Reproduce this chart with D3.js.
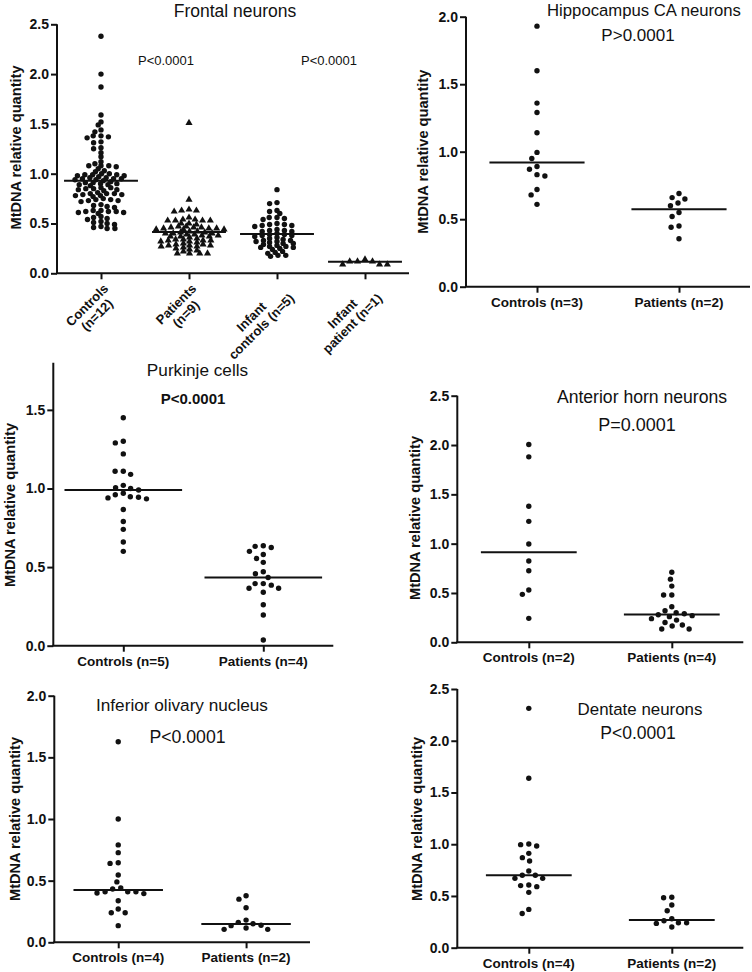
<!DOCTYPE html>
<html><head><meta charset="utf-8">
<script src="https://cdn.jsdelivr.net/npm/d3@7"></script>
<style>
body{margin:0;background:#fff}
svg{display:block}
text{font-family:"Liberation Sans",Arial,Helvetica,sans-serif;fill:#111}
</style>
</head><body>
<svg id="chart" width="752" height="972"></svg>
<script>
// ---------------- DATA ----------------
const yAxisTitle = "MtDNA relative quantity";

// Frontal neurons
const frontalCategories = ["Controls\n(n=12)", "Patients\n(n=9)", "Infant\ncontrols (n=5)", "Infant\npatient (n=1)"];
const frontalControls = [2.38,2.00,1.87,1.59,1.52,1.49,1.44,1.42,1.38,1.38,1.37,1.36,1.32,1.31,1.26,1.25,1.21,1.17,1.12,1.10,1.08,1.08,1.08,1.07,1.05,
  1.03,1.02,1.00,1.00,0.99,0.99,0.99,0.98,0.98,0.97,
  0.96,0.96,0.95,0.95,0.95,0.94,0.94,0.93,
  0.92,0.91,0.91,0.90,0.90,0.89,0.89,0.88,
  0.86,0.86,0.85,0.85,0.84,0.84,0.83,
  0.81,0.80,0.80,0.80,0.79,0.79,0.78,0.78,0.77,
  0.75,0.74,0.74,0.73,0.73,0.72,
  0.69,0.68,0.67,0.66,
  0.63,0.63,0.62,0.62,0.62,0.61,0.61,0.60,
  0.57,0.56,0.55,0.54,0.52,0.51,0.50,0.49,0.47,0.46,0.45,0.45];
const frontalPatients = [1.51,0.74,0.64,0.63,0.63,0.62,0.56,0.54,0.54,0.53,0.53,0.53,0.53,0.50,0.50,0.49,0.47,0.47,0.46,0.46,0.46,0.45,0.45,0.45,0.44,0.44,0.44,
  0.42,0.42,0.41,0.41,0.40,0.40,0.40,0.39,0.39,0.38,0.38,0.37,0.37,0.37,0.36,0.35,0.34,0.34,0.33,0.33,0.33,0.32,0.32,0.31,0.30,
  0.29,0.29,0.28,0.28,0.28,0.27,0.27,0.26,0.25,0.24,0.23,0.22,0.20,0.20,0.20,0.20];
const frontalInfantControls = [0.84,0.71,0.70,0.63,0.62,0.60,0.56,0.56,0.55,0.54,0.50,0.49,0.49,0.48,0.48,0.47,0.44,0.43,0.43,0.42,0.42,0.40,0.39,0.39,0.38,0.38,
  0.37,0.36,0.35,0.34,0.33,0.33,0.32,0.32,0.31,0.30,0.30,0.29,0.28,0.27,0.27,0.26,0.26,0.25,0.24,0.22,0.21,0.20,0.18,0.18,0.17];
const frontalInfantPatient = [0.14,0.12,0.09,0.09,0.09,0.12,0.12];
const frontalMedians = [0.93, 0.415, 0.394, 0.117];

// Hippocampus CA neurons
const hippoCategories = ["Controls (n=3)", "Patients (n=2)"];
const hippoControls = [1.93,1.60,1.36,1.29,1.14,0.995,0.95,0.89,0.87,0.83,0.82,0.72,0.68,0.61];
const hippoPatients = [0.69,0.66,0.65,0.62,0.60,0.55,0.52,0.45,0.44,0.355];
const hippoMedians = [0.92, 0.573];

// Purkinje cells
const purkinjeCategories = ["Controls (n=5)", "Patients (n=4)"];
const purkinjeControls = [1.45,1.30,1.29,1.22,1.11,1.11,1.09,1.02,1.005,1.00,0.99,0.97,0.96,0.947,0.944,0.94,0.934,0.866,0.79,0.74,0.66,0.60];
const purkinjePatients = [0.636,0.632,0.625,0.60,0.58,0.555,0.53,0.47,0.458,0.434,0.395,0.395,0.385,0.365,0.365,0.34,0.26,0.195,0.036];
const purkinjeMedians = [0.99, 0.434];

// Anterior horn neurons
const anteriorCategories = ["Controls (n=2)", "Patients (n=4)"];
const anteriorControls = [2.006,1.88,1.38,1.226,0.996,0.824,0.726,0.53,0.486,0.243];
const anteriorPatients = [0.71,0.64,0.57,0.48,0.48,0.36,0.32,0.30,0.29,0.28,0.27,0.26,0.24,0.225,0.20,0.175,0.165,0.135,0.135];
const anteriorMedians = [0.912, 0.283];

// Inferior olivary nucleus
const olivaryCategories = ["Controls (n=4)", "Patients (n=2)"];
const olivaryControls = [1.627,1.00,0.79,0.727,0.645,0.64,0.546,0.49,0.44,0.432,0.41,0.41,0.41,0.40,0.395,0.337,0.27,0.24,0.24,0.135];
const olivaryPatients = [0.378,0.35,0.28,0.18,0.162,0.15,0.138,0.135,0.116,0.105,0.105];
const olivaryMedians = [0.424, 0.148];

// Dentate neurons
const dentateCategories = ["Controls (n=4)", "Patients (n=2)"];
const dentateControls = [2.313,1.637,1.002,0.996,0.983,0.912,0.87,0.838,0.741,0.70,0.70,0.67,0.67,0.606,0.60,0.59,0.535,0.37,0.33];
const dentatePatients = [0.487,0.483,0.413,0.357,0.28,0.26,0.24,0.24,0.235,0.20];
const dentateMedians = [0.70, 0.268];

const yTickValues25 = [0, 0.5, 1.0, 1.5, 2.0, 2.5];
const yTickValues20 = [0, 0.5, 1.0, 1.5, 2.0];
const yTickValues15 = [0, 0.5, 1.0, 1.5];

// ---------------- LAYOUT ----------------
const panels = [
  { title:"Frontal neurons", titleX:235, titleY:16.5, titleSize:17.5,
    pLabels:[{t:"P<0.0001", x:166, y:65},{t:"P<0.0001", x:329, y:65}], pSize:13, pBold:false,
    cats:frontalCategories, series:[frontalControls,frontalPatients,frontalInfantControls,frontalInfantPatient],
    shapes:["circle","triangle","circle","triangle"], medians:frontalMedians,
    axisX:57, axisEnd:409, yTop:24.3, yBottom:273.3, yMax:2.5, ticks:yTickValues25,
    lineFrac:0.84, rotated:true, cdx:7.8, cdy:[3.2,3.2,3.2,7], ytX:21, ytY:147.5 },
  { title:"Hippocampus CA neurons", titleX:644, titleY:16, titleSize:16.7,
    pLabels:[{t:"P>0.0001", x:638, y:41}], pSize:17, pBold:false,
    cats:hippoCategories, series:[hippoControls,hippoPatients], shapes:["circle","circle"], medians:hippoMedians,
    axisX:466, axisEnd:750, yTop:16.7, yBottom:286.7, yMax:2.0, ticks:yTickValues20,
    lineFrac:0.67, rotated:false, cdx:8, cdy:[8,8], ytX:428, ytY:151.7 },
  { title:"Purkinje cells", titleX:197.5, titleY:375.7, titleSize:17.2,
    pLabels:[{t:"P<0.0001", x:193, y:404}], pSize:15, pBold:true,
    cats:purkinjeCategories, series:[purkinjeControls,purkinjePatients], shapes:["circle","circle"], medians:purkinjeMedians,
    axisX:53.3, axisEnd:333.3, yTop:362.7, yBottom:645.7, yMax:1.8, ticks:yTickValues15,
    lineFrac:0.84, rotated:false, cdx:8.2, cdy:[7,7], ytX:15, ytY:505 },
  { title:"Anterior horn neurons", titleX:642, titleY:403, titleSize:17.6,
    pLabels:[{t:"P=0.0001", x:637, y:430.5}], pSize:18, pBold:false,
    cats:anteriorCategories, series:[anteriorControls,anteriorPatients], shapes:["circle","circle"], medians:anteriorMedians,
    axisX:457.3, axisEnd:743.3, yTop:395.7, yBottom:642.3, yMax:2.5, ticks:yTickValues25,
    lineFrac:0.67, rotated:false, cdx:8.2, cdy:[7,7], ytX:420, ytY:518 },
  { title:"Inferior olivary nucleus", titleX:182, titleY:711, titleSize:17.2,
    pLabels:[{t:"P<0.0001", x:187.5, y:743.3}], pSize:17.7, pBold:false,
    cats:olivaryCategories, series:[olivaryControls,olivaryPatients], shapes:["circle","circle"], medians:olivaryMedians,
    axisX:54.3, axisEnd:310, yTop:695.7, yBottom:942.3, yMax:2.0, ticks:yTickValues20,
    lineFrac:0.70, rotated:false, cdx:8.2, cdy:[7,7], ytX:20, ytY:819 },
  { title:"Dentate neurons", titleX:640, titleY:715, titleSize:16.9,
    pLabels:[{t:"P<0.0001", x:638, y:739}], pSize:17.5, pBold:false,
    cats:dentateCategories, series:[dentateControls,dentatePatients], shapes:["circle","circle"], medians:dentateMedians,
    axisX:457.3, axisEnd:743.3, yTop:689, yBottom:947.7, yMax:2.5, ticks:yTickValues25,
    lineFrac:0.6, rotated:false, cdx:8.2, cdy:[7,7], ytX:422, ytY:819 }
];

const svg = d3.select("#chart");
const INK = "#111";

// beeswarm with elliptical collision (DX horizontal, DY vertical)
function swarm(values, y, DX, DY) {
  const pts = values.map(v => ({v, y:y(v), x:0}));
  const order = pts.slice().sort((a,b)=>b.v-a.v);
  const placed = [];
  const clash = (q, c, py) => { const dx=(q.x-c)/DX, dy=(q.y-py)/DY; return dx*dx+dy*dy < 1-1e-6; };
  for (const p of order) {
    const cands = [0];
    for (const q of placed) {
      const dy = Math.abs(q.y - p.y);
      if (dy < DY) { const dx = DX*Math.sqrt(1 - (dy/DY)*(dy/DY)); cands.push(q.x+dx, q.x-dx); }
    }
    cands.sort((a,b)=>Math.abs(a)-Math.abs(b) || a-b);
    for (const c of cands) {
      if (!placed.some(q => clash(q, c, p.y))) { p.x = c; break; }
    }
    placed.push(p);
  }
  return pts;
}

panels.forEach(P => {
  const g = svg.append("g");
  const y = d3.scaleLinear().domain([0, P.yMax]).range([P.yBottom, P.yTop]);
  const x = d3.scalePoint().domain(P.cats).range([P.axisX, P.axisEnd]).padding(0.5);

  // y axis
  const yAx = g.append("g").attr("transform",`translate(${P.axisX},0)`)
    .call(d3.axisLeft(y).tickValues(P.ticks).tickFormat(d3.format(".1f")).tickSize(6).tickPadding(2).tickSizeOuter(0));
  yAx.select(".domain").attr("stroke",INK).attr("stroke-width",2).attr("d",`M0,${P.yBottom}V${P.yTop}`);
  yAx.selectAll(".tick line").attr("stroke",INK).attr("stroke-width",2);
  yAx.selectAll(".tick text").attr("font-size",14).attr("font-weight","bold").attr("fill",INK)
     .attr("font-family","'Liberation Sans',Arial,sans-serif");

  // x axis
  const xAx = g.append("g").attr("transform",`translate(0,${P.yBottom})`)
    .call(d3.axisBottom(x).tickSize(6).tickSizeOuter(0).tickFormat(""));
  xAx.select(".domain").attr("stroke",INK).attr("stroke-width",2).attr("d",`M${P.axisX-1},0H${P.axisEnd}`);
  xAx.selectAll(".tick line").attr("stroke",INK).attr("stroke-width",2);

  // category labels
  if (!P.rotated) {
    P.cats.forEach(c => {
      g.append("text").attr("x", x(c)).attr("y", P.yBottom + 20).attr("text-anchor","middle")
        .attr("font-size",13.5).attr("font-weight","bold").text(c);
    });
  } else {
    P.cats.forEach(c => {
      const lines = c.split("\n");
      const lg = g.append("g").attr("transform",`translate(${x(c)+1},${P.yBottom+9}) rotate(-45)`);
      const ts = lines.map((l,i) => lg.append("text").attr("y", 10 + i*14).attr("text-anchor","middle")
        .attr("font-size",13).attr("font-weight","bold").text(l));
      const W = d3.max(ts, t => t.node().getComputedTextLength());
      ts.forEach(t => t.attr("x", -W/2));
    });
  }

  // y axis title
  g.append("text").attr("transform",`translate(${P.ytX},${P.ytY}) rotate(-90)`).attr("text-anchor","middle")
    .attr("font-size",14.6).attr("font-weight","bold").text(yAxisTitle);

  // title and p-labels
  g.append("text").attr("x",P.titleX).attr("y",P.titleY).attr("text-anchor","middle")
    .attr("font-size",P.titleSize).text(P.title);
  P.pLabels.forEach(pl => g.append("text").attr("x",pl.x).attr("y",pl.y).attr("text-anchor","middle")
    .attr("font-size",P.pSize).attr("font-weight",P.pBold?"bold":"normal").text(pl.t));

  // points
  P.series.forEach((vals, i) => {
    const cx = x(P.cats[i]);
    const pts = swarm(vals, y, P.cdx, P.cdy[i]);
    if (P.shapes[i] === "circle") {
      g.append("g").selectAll("circle").data(pts).join("circle")
        .attr("cx", d => cx + d.x).attr("cy", d => d.y).attr("r", 2.7).attr("fill", INK);
    } else {
      const sym = d3.symbol(d3.symbolTriangle, 22);
      g.append("g").selectAll("path").data(pts).join("path")
        .attr("transform", d => `translate(${cx + d.x},${d.y})`).attr("d", sym).attr("fill", INK);
    }
    // median line
    const hw = x.step() * P.lineFrac / 2;
    g.append("line").attr("x1", cx - hw).attr("x2", cx + hw)
      .attr("y1", y(P.medians[i])).attr("y2", y(P.medians[i]))
      .attr("stroke", INK).attr("stroke-width", 2);
  });
});
</script>
</body></html>
